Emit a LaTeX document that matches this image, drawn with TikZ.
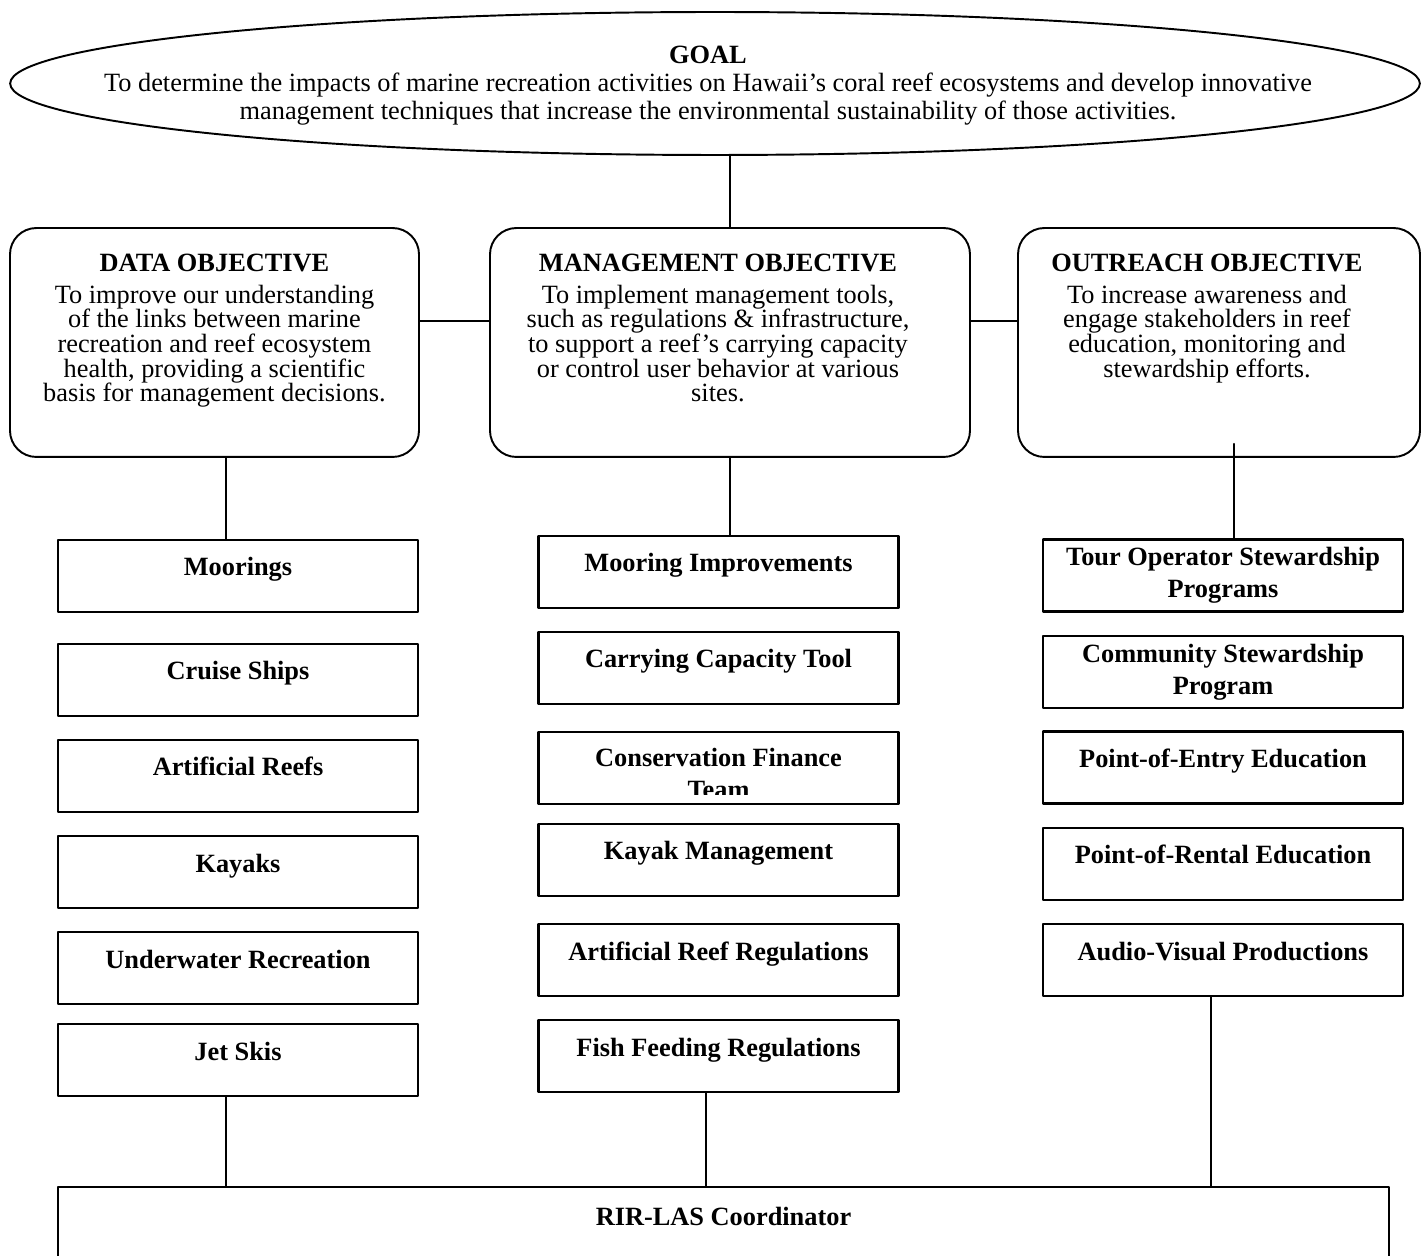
\documentclass[tikz,border=0pt]{standalone}
\usepackage{fontspec}
\setmainfont{Liberation Serif}
\usetikzlibrary{shapes.geometric}

% objective box text: [offset]{width}{heading}{body}
\newcommand{\objbox}[4][0pt]{\parbox[c][130.3pt][t]{#2}{\centering\rightskip=#1 plus 1fil
\fontsize{15}{14.06}\selectfont\rule{0pt}{24.5pt}\textbf{#3}\\[4.15pt]#4}}

\tikzset{
  obj/.style={draw, rounded corners=15pt, line width=1.1pt, inner sep=0pt},
  item/.style={draw, rectangle, line width=1.5pt, minimum width=7.2cm, minimum height=1.44cm,
    inner sep=0pt, align=center, font=\fontsize{15}{18.2}\selectfont\bfseries},
  one/.style={text height=10pt, text depth=10pt},
  link/.style={line width=1pt}
}

\begin{document}
\begin{tikzpicture}[line cap=round,line join=round,x=0.02cm,y=-0.02cm]
\useasboundingbox (0,0) rectangle (1421,1256);
\node[draw, ellipse, line width=1.1pt, minimum width=28.2cm, minimum height=2.86cm, inner sep=0pt] (goal) at (715,83.5) {};
\node[align=center, inner sep=0pt, font=\fontsize{15}{16}\selectfont] (goaltxt) at (708,86) {\textbf{GOAL}\\To determine the impacts of marine recreation activities on Hawaii’s coral reef ecosystems and develop innovative\\management techniques that increase the environmental sustainability of those activities.};
\node[obj] (data) at (214.5,342.5) {\objbox{232.8pt}{DATA OBJECTIVE}{To improve our understanding\\of the links between marine\\recreation and reef ecosystem\\health, providing a scientific\\basis for management decisions.}};
\node[obj] (mgmt) at (730,342.5) {\objbox[13.7pt]{273.2pt}{MANAGEMENT OBJECTIVE}{To implement management tools,\\such as regulations \& infrastructure,\\to support a reef’s carrying capacity\\or control user behavior at various\\sites.}};
\node[obj] (out) at (1219,342.5) {\objbox[13.7pt]{228.8pt}{OUTREACH OBJECTIVE}{To increase awareness and\\engage stakeholders in reef\\education, monitoring and\\stewardship efforts.}};
\draw[link] (goal.south -| mgmt.north) -- (mgmt.north);
\draw[link] ([yshift=12.2pt]data.east) -- ([yshift=12.2pt]mgmt.west);
\draw[link] ([yshift=12.2pt]mgmt.east) -- ([yshift=12.2pt]out.west);
%data column
\node[item, one] (moor) at (238,576) {Moorings};
\node[item, one] (cruise) at (238,680) {Cruise Ships};
\node[item, one] (artreef) at (238,776) {Artificial Reefs};
\node[item, one] (kayak) at (238,872) {Kayaks};
\node[item, one] (under) at (238,968) {Underwater Recreation};
\node[item, one] (jet) at (238,1060) {Jet Skis};
%management column
\node[item, one] (moorimp) at (718.5,572) {Mooring Improvements};
\node[item, one] (carry) at (718.5,668) {Carrying Capacity Tool};
\node[item] (cons) at (718.5,768) {};
\begin{scope}
\clip (cons.north west) rectangle ([yshift=6.3pt]cons.south east);
\node[inner sep=0pt, anchor=base, font=\fontsize{15}{18.2}\selectfont\bfseries] (constxt) at ([yshift=-20.5pt]cons.north) {\parbox[t]{7cm}{\centering Conservation Finance\\Team}};
\end{scope}
\node[item, one] (kayakmgmt) at (718.5,860) {Kayak Management};
\node[item, one] (reefreg) at (718.5,960) {Artificial Reef Regulations};
\node[item, one] (fish) at (718.5,1056) {Fish Feeding Regulations};
%outreach column
\node[item] (tour) at (1223,575.5) {Tour Operator Stewardship\\Programs};
\node[item] (comm) at (1223,672) {Community Stewardship\\Program};
\node[item, one] (entry) at (1223,767.5) {Point-of-Entry Education};
\node[item, one] (rental) at (1223,864) {Point-of-Rental Education};
\node[item, one] (av) at (1223,960) {Audio-Visual Productions};
\draw[link] ([xshift=6.5pt]data.south) -- ([xshift=6.5pt]data.south |- moor.north);
\draw[link] (mgmt.south) -- (mgmt.south |- moorimp.north);
\draw[link] ([xshift=8.5pt,yshift=8pt]out.south) -- ([xshift=8.5pt]out.south |- tour.north);
%coordinator
\node[draw, line width=1.5pt, minimum width=26.62cm, minimum height=1.52cm, inner sep=0pt, text height=10pt, text depth=10pt, font=\fontsize{15}{18}\selectfont\bfseries] (rir) at (723.5,1225) {RIR-LAS Coordinator};
\draw[link] ([xshift=-6.8pt]jet.south) -- ([xshift=-6.8pt]jet.south |- rir.north);
\draw[link] ([xshift=-7.1pt]fish.south) -- ([xshift=-7.1pt]fish.south |- rir.north);
\draw[link] ([xshift=-6.8pt]av.south) -- ([xshift=-6.8pt]av.south |- rir.north);
\end{tikzpicture}
\end{document}
